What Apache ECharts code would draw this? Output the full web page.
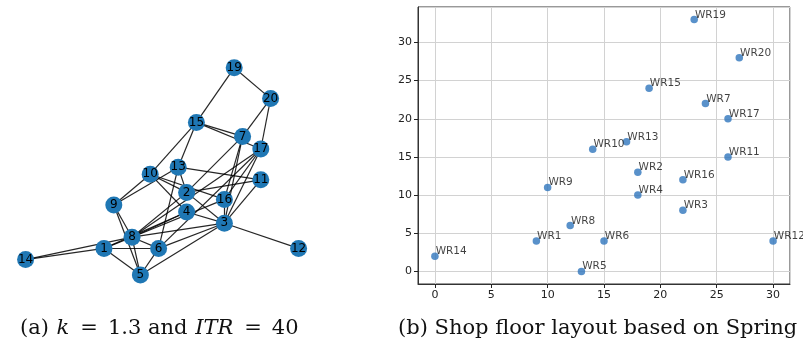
<!DOCTYPE html>
<html>
<head>
<meta charset="utf-8">
<script src="https://cdn.jsdelivr.net/npm/echarts@6/dist/echarts.min.js"></script>
<style>
  html, body { margin: 0; padding: 0; background: #fff; }
  #chart { width: 803px; height: 350px; }
</style>
</head>
<body>
<div id="chart"></div>
<script>
// (a) graph layout: node ids and spring-layout positions
var nodeIds = ['1', '2', '3', '4', '5', '6', '7', '8', '9', '10', '11', '12', '13', '14', '15', '16', '17', '19', '20'];
var nodeX = [-0.40, 0.19, 0.46, 0.19, -0.14, -0.01, 0.59, -0.20, -0.33, -0.07, 0.72, 0.99, 0.13, -0.96, 0.26, 0.46, 0.72, 0.53, 0.79];
var nodeY = [-0.56, -0.16, -0.38, -0.30, -0.75, -0.56, 0.24, -0.48, -0.25, -0.03, -0.07, -0.56, 0.02, -0.64, 0.34, -0.21, 0.15, 0.73, 0.51];
var edgeFrom = ['19', '19', '20', '20', '15', '15', '15', '15', '10', '9', '9', '9', '10', '10', '10', '13', '13', '13', '2', '2', '2', '7', '7', '17', '17', '17', '17', '11', '16', '16', '4', '4', '4', '3', '3', '3', '3', '8', '8', '8', '8', '1', '1', '1', '6', '2'];
var edgeTo   = ['20', '15', '7', '17', '7', '17', '10', '13', '9', '13', '8', '5', '2', '16', '4', '2', '11', '6', '11', '3', '7', '16', '3', '3', '16', '8', '6', '3', '3', '8', '3', '8', '1', '12', '8', '6', '5', '1', '6', '5', '14', '14', '6', '5', '5', '8'];

// (b) shop floor layout
var wrNames = ['WR1', 'WR2', 'WR3', 'WR4', 'WR5', 'WR6', 'WR7', 'WR8', 'WR9', 'WR10', 'WR11', 'WR12', 'WR13', 'WR14', 'WR15', 'WR16', 'WR17', 'WR19', 'WR20'];
var wrX = [9, 18, 22, 18, 13, 15, 24, 12, 10, 14, 26, 30, 17, 0, 19, 22, 26, 23, 27];
var wrY = [4, 13, 8, 10, 0, 4, 22, 6, 11, 16, 15, 4, 17, 2, 24, 12, 20, 33, 28];

// caption pieces: n = roman, i = math italic, e = relation sign
var captionA = [['n', '(a) '], ['i', 'k'], ['e', '='], ['n', '1.3 and '], ['i', 'ITR'], ['e', '='], ['n', '40']];
var captionB = '(b) Shop floor layout based on Spring';

var chart = echarts.init(document.getElementById('chart'));

var graphNodes = nodeIds.map(function (id, i) {
    return { name: id, value: [nodeX[i], nodeY[i]] };
});
var graphLinks = edgeFrom.map(function (s, i) {
    return { source: s, target: edgeTo[i] };
});
var points = wrNames.map(function (n, i) {
    return { name: n, value: [wrX[i], wrY[i]] };
});

var axisCol = '#222';
var gridCol = '#d2d2d2';
var serif = 'DejaVu Serif';
var capSize = 21;

var option = {
    animation: false,
    grid: [
        { left: 0, top: 40, width: 320, height: 260 },
        { left: 418, top: 7, width: 372, height: 277, show: true, borderColor: '#333', borderWidth: 1, backgroundColor: 'transparent' }
    ],
    xAxis: [
        { gridIndex: 0, type: 'value', min: -1.1429, max: 1.1429, show: false },
        {
            gridIndex: 1, type: 'value', min: -1.5, max: 31.5,
            minInterval: 5, maxInterval: 5,
            axisLine: { show: true, onZero: false, lineStyle: { color: '#333' } },
            axisTick: { show: true, length: 4, lineStyle: { color: axisCol } },
            axisLabel: { color: axisCol, fontSize: 11, fontFamily: 'DejaVu Sans', margin: 6, showMinLabel: false, showMaxLabel: false },
            splitLine: { show: true, lineStyle: { color: gridCol, width: 1 } }
        }
    ],
    yAxis: [
        { gridIndex: 0, type: 'value', min: -0.9286, max: 0.9286, show: false },
        {
            gridIndex: 1, type: 'value', min: -1.65, max: 34.65,
            minInterval: 5, maxInterval: 5,
            axisLine: { show: true, onZero: false, lineStyle: { color: '#333' } },
            axisTick: { show: true, length: 4, lineStyle: { color: axisCol } },
            axisLabel: { color: axisCol, fontSize: 11, fontFamily: 'DejaVu Sans', margin: 6, showMinLabel: false, showMaxLabel: false },
            splitLine: { show: true, lineStyle: { color: gridCol, width: 1 } }
        }
    ],
    series: [
        {
            type: 'graph',
            coordinateSystem: 'cartesian2d',
            xAxisIndex: 0,
            yAxisIndex: 0,
            symbolSize: 17,
            itemStyle: { color: '#1f77b4' },
            label: { show: true, position: 'inside', color: '#000', fontSize: 12, fontFamily: 'DejaVu Sans' },
            lineStyle: { color: '#000', width: 1.2, opacity: 0.85 },
            data: graphNodes,
            links: graphLinks
        },
        {
            type: 'scatter',
            xAxisIndex: 1,
            yAxisIndex: 1,
            symbolSize: 7.5,
            itemStyle: { color: '#2f76bd' },
            label: {
                show: true,
                position: [4.5, -1],
                align: 'left',
                verticalAlign: 'middle',
                formatter: '{b}',
                color: '#111',
                fontSize: 10.5,
                fontFamily: 'DejaVu Sans'
            },
            data: points
        }
    ],
    graphic: [
        {
            type: 'text', left: 20, top: 318,
            style: {
                text: captionA.map(function (p) { return '{' + p[0] + '|' + p[1] + '}'; }).join(''),
                rich: {
                    n: { fontFamily: serif, fontSize: capSize, fill: '#111' },
                    i: { fontFamily: serif, fontStyle: 'italic', fontSize: capSize, fill: '#111', padding: [0, 1] },
                    e: { fontFamily: serif, fontSize: capSize, fill: '#111', padding: [0, 10] }
                }
            }
        },
        {
            type: 'text', left: 398, top: 318,
            style: { text: captionB, fontFamily: serif, fontSize: capSize, fill: '#111' }
        }
    ]
};

chart.setOption(option);
</script>
</body>
</html>
